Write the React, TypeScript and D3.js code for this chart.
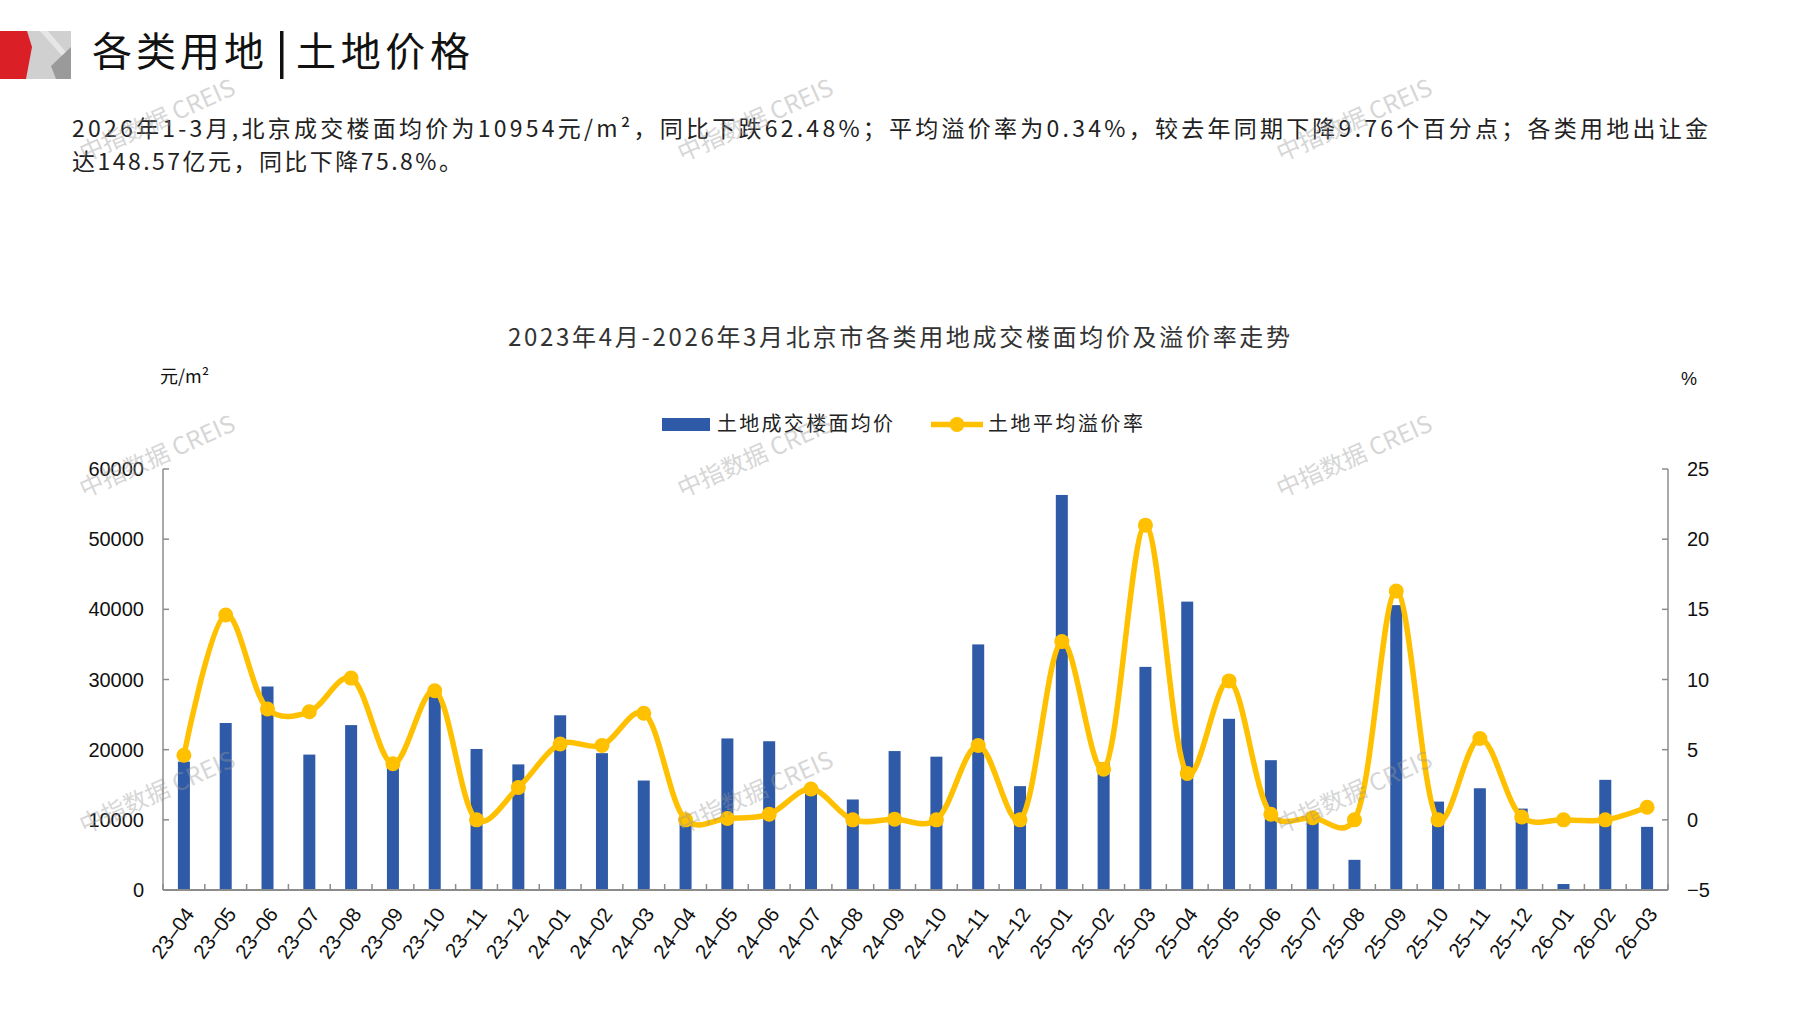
import React from 'react';
import * as d3 from 'd3';

const categories = [
  '23-04','23-05','23-06','23-07','23-08','23-09','23-10','23-11','23-12',
  '24-01','24-02','24-03','24-04','24-05','24-06','24-07','24-08','24-09','24-10','24-11','24-12',
  '25-01','25-02','25-03','25-04','25-05','25-06','25-07','25-08','25-09','25-10','25-11','25-12',
  '26-01','26-02','26-03'
];

const landPrice = [
  18300, 23800, 29000, 19300, 23500, 17500, 28800, 20100, 17900,
  24900, 19500, 15600, 9500, 21600, 21200, 13800, 12900, 19800, 19000, 35000, 14800,
  56300, 18200, 31800, 41100, 24400, 18500, 10700, 4300, 40600, 12600, 14500, 11600,
  850, 15700, 9000
];

const premiumRate = [
  4.6, 14.6, 7.9, 7.7, 10.1, 4.0, 9.2, 0.0, 2.3,
  5.4, 5.3, 7.6, 0.0, 0.1, 0.4, 2.2, 0.0, 0.05, 0.0, 5.3, 0.0,
  12.7, 3.6, 21.0, 3.3, 9.9, 0.4, 0.15, 0.0, 16.3, 0.0, 5.8, 0.2,
  0.0, 0.0, 0.9
];

const leftTicks = [0, 10000, 20000, 30000, 40000, 50000, 60000];
const rightTicks = [-5, 0, 5, 10, 15, 20, 25];

const watermarkX = [158, 756, 1355];
const watermarkY = [122, 458, 794];

const BAR = '#2E5AA7';
const GOLD = '#FFC000';
const AXIS = '#8C8C8C';
const CJK = '"Noto Sans CJK SC", "Noto Sans", sans-serif';
const LAT = '"Liberation Sans", Arial, sans-serif';

export default function App() {
  const W = 1797, H = 1010;
  const m = { left: 163, right: 1668, top: 469, bottom: 890 };
  const x = d3.scaleBand<string>().domain(categories).range([m.left, m.right]);
  const yL = d3.scaleLinear().domain([0, 60000]).range([m.bottom, m.top]);
  const yR = d3.scaleLinear().domain([-5, 25]).range([m.bottom, m.top]);
  const cx = (c: string) => (x(c) as number) + x.bandwidth() / 2;
  const barW = 12;

  const lineGen = d3
    .line<number>()
    .x((_, i) => cx(categories[i]))
    .y((d) => yR(d))
    .curve(d3.curveCatmullRom.alpha(0.25));

  const boundaries = d3.range(categories.length + 1).map((i) => m.left + i * x.step());

  return (
    <svg
      width={W}
      height={H}
      viewBox={`0 0 ${W} ${H}`}
      style={{ position: 'absolute', left: 0, top: 0, background: '#fff' }}
    >
      <rect x={0} y={0} width={W} height={H} fill="#fff" />

      {/* logo */}
      <polygon points="26,31 71,31 71,79 26,79" fill="#D0D0D0" />
      <polygon points="40,31 48,31 71,58 71,66" fill="#E6E6E6" />
      <polygon points="71,47 71,79 56,79 51,66" fill="#9A9A9A" />
      <polygon points="0,31 27,31 32,47 26,79 0,79" fill="#DA1F26" />

      {/* page title */}
      <text x={92} y={66} fontFamily={CJK} fontSize={40} fill="#111" textLength={172} lengthAdjust="spacing">各类用地</text>
      <rect x={280} y={31} width={3.5} height={48} fill="#111" />
      <text x={296} y={66} fontFamily={CJK} fontSize={40} fill="#111" textLength={174} lengthAdjust="spacing">土地价格</text>

      {/* paragraph */}
      <text x={72} y={137} fontFamily={CJK} fontSize={23} fill="#222" textLength={1636} lengthAdjust="spacing">
        2026年1-3月,北京成交楼面均价为10954元/m²，同比下跌62.48%；平均溢价率为0.34%，较去年同期下降9.76个百分点；各类用地出让金
      </text>
      <text x={72} y={170} fontFamily={CJK} fontSize={23} fill="#222" textLength={390} lengthAdjust="spacing">
        达148.57亿元，同比下降75.8%。
      </text>

      {/* chart title */}
      <text x={508} y={346} fontFamily={CJK} fontSize={24} fill="#333" textLength={782} lengthAdjust="spacing">
        2023年4月-2026年3月北京市各类用地成交楼面均价及溢价率走势
      </text>

      {/* units */}
      <text x={160} y={383} fontFamily={CJK} fontSize={18} fill="#111">元/m²</text>
      <text x={1681} y={385} fontFamily={LAT} fontSize={18} fill="#111">%</text>

      {/* legend */}
      <rect x={662} y={418} width={48} height={13} fill={BAR} />
      <text x={717} y={431} fontFamily={CJK} fontSize={20} fill="#222" textLength={176} lengthAdjust="spacing">土地成交楼面均价</text>
      <line x1={931} x2={983} y1={424.5} y2={424.5} stroke={GOLD} strokeWidth={5.5} />
      <circle cx={957} cy={424.5} r={7.5} fill={GOLD} />
      <text x={988} y={431} fontFamily={CJK} fontSize={20} fill="#222" textLength={155} lengthAdjust="spacing">土地平均溢价率</text>

      {/* bars */}
      {landPrice.map((v, i) => (
        <rect
          key={categories[i]}
          x={cx(categories[i]) - barW / 2}
          y={yL(v)}
          width={barW}
          height={m.bottom - yL(v)}
          fill={BAR}
        />
      ))}

      {/* axes */}
      <line x1={m.left} x2={m.left} y1={m.top} y2={m.bottom} stroke={AXIS} strokeWidth={1.5} />
      <line x1={m.right} x2={m.right} y1={m.top} y2={m.bottom} stroke={AXIS} strokeWidth={1.5} />
      <line x1={m.left} x2={m.right} y1={m.bottom} y2={m.bottom} stroke={AXIS} strokeWidth={2} />
      {leftTicks.map((t) => (
        <g key={'l' + t}>
          <line x1={m.left} x2={m.left + 6} y1={yL(t)} y2={yL(t)} stroke={AXIS} strokeWidth={1.5} />
          <text x={144} y={yL(t) + 7} textAnchor="end" fontFamily={LAT} fontSize={20} fill="#111">{t}</text>
        </g>
      ))}
      {rightTicks.map((t) => (
        <g key={'r' + t}>
          <line x1={m.right - 6} x2={m.right} y1={yR(t)} y2={yR(t)} stroke={AXIS} strokeWidth={1.5} />
          <text x={1687} y={yR(t) + 7} fontFamily={LAT} fontSize={20} fill="#111">{t < 0 ? '−' + Math.abs(t) : t}</text>
        </g>
      ))}
      {boundaries.map((b, i) => (
        <line key={'b' + i} x1={b} x2={b} y1={m.bottom} y2={m.bottom - 6} stroke={AXIS} strokeWidth={1.5} />
      ))}
      {categories.map((c) => (
        <text
          key={'x' + c}
          transform={`translate(${cx(c) + 7},${m.bottom + 21}) rotate(-54)`}
          textAnchor="end"
          dominantBaseline="middle"
          fontFamily={LAT}
          fontSize={20.5}
          fill="#111"
        >
          {c.replace('-', '–')}
        </text>
      ))}

      {/* line series */}
      <path d={lineGen(premiumRate) || ''} fill="none" stroke={GOLD} strokeWidth={5.5} strokeLinejoin="round" />
      {premiumRate.map((v, i) => (
        <circle key={'p' + i} cx={cx(categories[i])} cy={yR(v)} r={7.5} fill={GOLD} />
      ))}

      {/* watermarks */}
      {watermarkY.map((wy) =>
        watermarkX.map((wx) => (
          <text
            key={`w${wx}-${wy}`}
            transform={`translate(${wx},${wy}) rotate(-24)`}
            textAnchor="middle"
            dominantBaseline="middle"
            fontFamily={CJK}
            fontSize={24}
            fill="#9a9a9a"
            opacity={0.4}
          >
            中指数据 CREIS
          </text>
        ))
      )}
    </svg>
  );
}
